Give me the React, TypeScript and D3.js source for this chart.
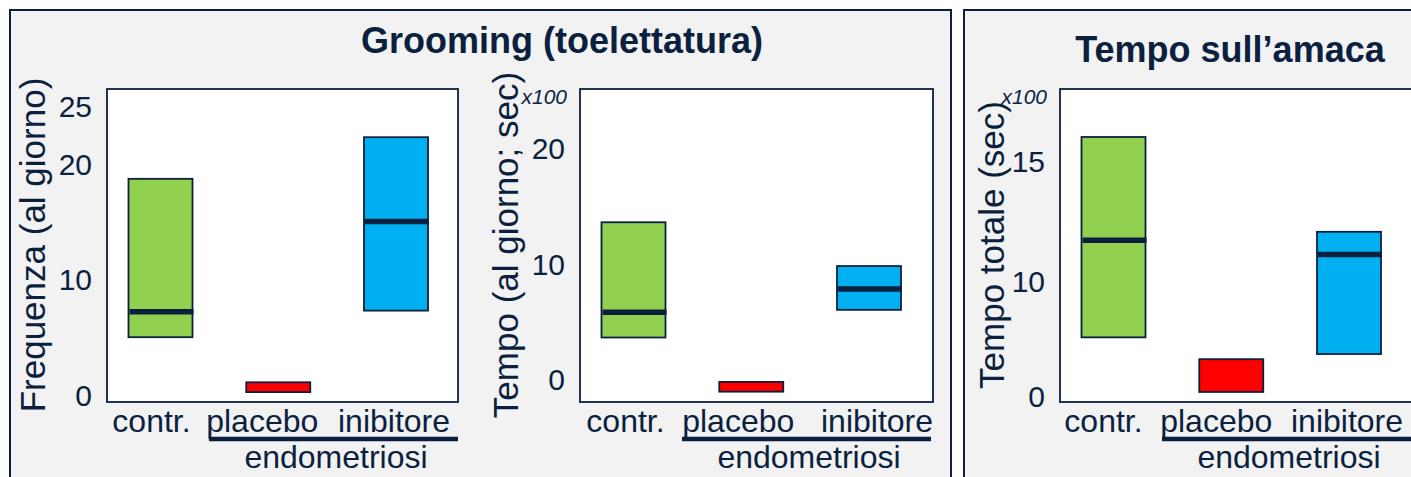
import React from "react";
import * as d3 from "d3";

// groups on the x axis
const categories = ["contr.", "placebo", "inibitore"];
const groupColors = ["#92d050", "#ff0000", "#00b0f0"];
const groupLabel = "endometriosi";

// Grooming: frequency per day (range low/high, median)
const freqLow = [5.0, 0.25, 7.3];
const freqHigh = [18.7, 1.1, 22.3];
const freqMedian = [7.2, null, 15.0];
const freqTicks = [0, 10, 20, 25];

// Grooming: time per day (sec x100)
const timeLow = [3.6, -1.1, 6.0];
const timeHigh = [13.6, -0.25, 9.8];
const timeMedian = [5.8, null, 7.8];
const timeTicks = [0, 10, 20];

// Hammock: total time (sec x100)
const hammockLow = [5.1, 0.35, 3.65];
const hammockHigh = [16.0, 3.2, 12.05];
const hammockMedian = [11.7, null, 11.1];
const hammockTicks = [0, 10, 15];

const NAVY = "#0b1f3f";
const FONT = "'Liberation Sans', Arial, Helvetica, sans-serif";

interface ChartSpec {
  left: number;
  width: number;
  yLabel: string;
  yLabelX: number;
  scale: d3.ScaleLinear<number, number>;
  ticks: number[];
  low: number[];
  high: number[];
  median: (number | null)[];
  x100: boolean;
  labelNudge: number[];
}

const TOP = 89;
const BOTTOM = 402;

const charts: ChartSpec[] = [
  {
    left: 107, width: 351, yLabel: "Frequenza (al giorno)", yLabelX: 45,
    scale: d3.scaleLinear().domain([0, 25]).range([395, 106]),
    ticks: freqTicks, low: freqLow, high: freqHigh, median: freqMedian,
    x100: false, labelNudge: [-9, -16, -2],
  },
  {
    left: 580, width: 353, yLabel: "Tempo (al giorno; sec)", yLabelX: 518,
    scale: d3.scaleLinear().domain([0, 20]).range([379, 148.5]),
    ticks: timeTicks, low: timeLow, high: timeHigh, median: timeMedian,
    x100: true, labelNudge: [-8, -13, 8],
  },
  {
    left: 1060, width: 353, yLabel: "Tempo totale (sec)", yLabelX: 1004,
    scale: d3.scaleLinear().domain([0, 10, 15]).range([396, 281, 161]),
    ticks: hammockTicks, low: hammockLow, high: hammockHigh, median: hammockMedian,
    x100: true, labelNudge: [-10, -15, -2],
  },
];

function Chart({ c }: { c: ChartSpec }) {
  const x = d3.scalePoint<string>().domain(categories)
    .range([c.left + 53.5, c.left + 289]);
  const y = c.scale;
  const barW = 64;
  return (
    <g>
      <rect x={c.left} y={TOP} width={c.width} height={BOTTOM - TOP}
        fill="#ffffff" stroke={NAVY} strokeWidth={1.8} />
      {c.ticks.map((t) => (
        <text key={t} x={c.left - 15} y={y(t)} dy="0.36em" textAnchor="end"
          fontSize={30} fill={NAVY}>{t}</text>
      ))}
      {c.x100 && (
        <text x={c.left - 13} y={104} textAnchor="end" fontSize={21}
          fontStyle="italic" fill={NAVY}>x100</text>
      )}
      <text transform={`translate(${c.yLabelX},245) rotate(-90)`} textAnchor="middle"
        fontSize={35} fill={NAVY}>{c.yLabel}</text>
      {categories.map((cat, i) => {
        const cx = x(cat) as number;
        const y0 = y(c.low[i]);
        const y1 = y(c.high[i]);
        const m = c.median[i];
        return (
          <g key={cat}>
            <rect x={cx - barW / 2} y={y1} width={barW} height={y0 - y1}
              fill={groupColors[i]} stroke={NAVY} strokeWidth={1.8} />
            {m !== null && (
              <line x1={cx - barW / 2 + 1} x2={cx + barW / 2 + 1} y1={y(m)} y2={y(m)}
                stroke={NAVY} strokeWidth={5.5} />
            )}
            <text x={cx + c.labelNudge[i]} y={432} textAnchor="middle"
              fontSize={32} fill={NAVY}>{cat}</text>
          </g>
        );
      })}
      <line x1={c.left + 102} x2={c.left + 351} y1={439} y2={439}
        stroke={NAVY} strokeWidth={4.5} />
      <text x={c.left + 229} y={468} textAnchor="middle" fontSize={32}
        fill={NAVY}>{groupLabel}</text>
    </g>
  );
}

export default function App() {
  return (
    <svg width={1411} height={477} viewBox="0 0 1411 477"
      style={{ position: "absolute", left: 0, top: 0, background: "#ffffff" }}
      fontFamily={FONT}>
      <rect x={10} y={10} width={941} height={520} fill="#f2f2f2"
        stroke={NAVY} strokeWidth={2} />
      <rect x={964} y={10} width={520} height={520} fill="#f2f2f2"
        stroke={NAVY} strokeWidth={2} />
      <text x={562} y={53} textAnchor="middle" fontSize={36} fontWeight="bold"
        fill={NAVY}>Grooming (toelettatura)</text>
      <text x={1230} y={62} textAnchor="middle" fontSize={36} fontWeight="bold"
        fill={NAVY}>Tempo sull’amaca</text>
      {charts.map((c, i) => <Chart key={i} c={c} />)}
    </svg>
  );
}
